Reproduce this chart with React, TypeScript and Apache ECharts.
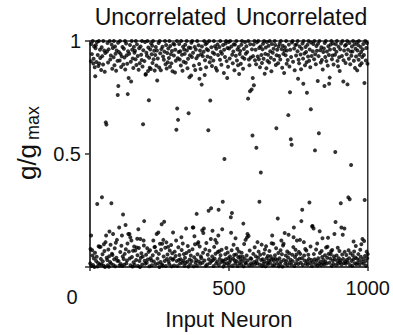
import React, { useEffect, useRef } from "react";
import * as echarts from "echarts";

// Synaptic weight (g/gmax) of each input neuron, neurons 1..1000, 20 per row
const weights: number[] = [
  .016, .08, .91, .139, .987, .004, .942, .074, .051, 1, .009, .9, .921, .038, .976, 0, .884, .063, .844, .968,
  .981, .027, .907, .045, .995, .279, .002, .938, .018, .889, .092, 1, .9, .089, .012, .961, .925, .089, .036, .872,
  .011, .972, .309, .933, .056, .025, .896, 1, .006, .101, .958, .071, .864, 0, .947, .11, .64, .139, .63, .041,
  .954, .031, .991, .008, .905, .077, .963, .001, .048, .157, 1, .022, .918, .098, .936, .015, .282, .984, .059, .877,
  .053, .969, .146, .009, .928, 1, .034, .893, .083, .976, .003, .944, .107, .868, .041, .958, .12, .028, .912, .761,
  .992, .801, .026, .951, .175, .007, .914, 1, .066, .943, .013, .885, .094, .932, .139, .004, .973, .047, .232, .896,
  .035, .966, .01, .927, .058, 1, .874, .186, .079, .989, .016, .937, .029, .899, .104, .765, .955, .146, .836, .068,
  .944, .146, .038, .982, .132, .008, .908, .821, .117, 1, .044, .961, .002, .923, .072, .881, .021, .974, .091, .948,
  .009, .957, .073, .919, 1, .031, .894, .086, .985, .125, .052, .934, .005, .167, .873, .084, .968, .027, .902, 0,
  .124, .976, .041, .939, .061, .916, 1, .011, .887, .046, .632, .959, .117, .095, .203, .911, .028, .996, .014, .851,
  .854, .054, .948, .019, .935, .083, 1, .033, .867, .971, .067, .738, .926, .003, .882, .074, .962, .039, .876, .99,
  .029, .941, .008, .979, .903, .052, 1, .117, .919, .024, .957, .088, .869, .089, .938, .012, .973, .069, .892, .146,
  .958, .825, .037, .923, .016, .153, .991, .058, .883, 0, 1, .103, .946, .022, .871, .076, .964, .189, .011, .103,
  .975, .006, .931, .12, .046, .917, .2, .953, .027, 1, .085, .897, .004, .982, .109, .878, .035, .947, .055, .906,
  .089, .967, .024, .925, .013, 1, .073, .886, .978, .039, .941, .097, .901, .003, .956, .061, .866, .032, .153, .988,
  .036, .936, .007, .984, .068, .861, .961, .049, .913, .117, .607, .026, 1, .701, .004, .924, .651, .087, .951, .031,
  .987, .053, .918, .015, .955, .034, .892, 1, .132, .075, .939, .019, .868, .104, .975, .028, .908, .057, .962, .006,
  .943, .041, .983, .018, .904, .17, .062, 1, .958, .023, .879, .093, .921, .002, .68, .971, .071, .84, .033, .937,
  .012, .969, .051, .847, .992, .027, .929, 1, .079, .175, .948, .175, .003, .891, .043, .136, .974, .101, .872, .019,
  .962, .031, .924, .235, .006, 1, .056, .103, .935, .11, .981, .024, .898, .833, .091, .958, .014, .876, .047, .941,
  .039, .807, .976, .163, .019, .933, .063, .15, .952, .17, 1, .029, .85, .915, .078, .986, .005, .884, .106, .964,
  .991, .011, .931, .054, .959, .605, .249, .034, 1, .072, .906, .018, .737, .926, .124, .26, .972, .026, .889, .046,
  .16, .949, .031, .914, .004, 1, .089, .943, .037, .977, .12, .059, .881, .015, .966, .107, .869, .024, .985, .066,
  .938, .139, .253, .009, .07, .973, .036, .917, 1, .052, .953, .021, .895, .076, .944, .167, .029, .289, .982, .002,
  .027, .858, .961, .478, .013, .929, .056, .989, .034, 1, .084, .911, .017, .836, .969, .064, .886, .039, .996, .008,
  .967, .021, .923, .047, 1, .031, .22, .152, .976, .074, .239, .939, .006, .902, .038, .954, .098, .986, .053, .871,
  .029, .984, .014, .127, .935, .055, 1, .025, .914, .081, .962, .004, .893, .043, .973, .069, .854, .018, .942, .046,
  .956, .033, .899, .011, .983, .063, 1, .026, .928, .045, .877, .192, .003, .965, .102, .921, .036, .995, .019, .12,
  .944, .015, .977, .051, .13, .951, .146, .029, .745, 1, .137, .918, .008, .893, .073, .778, .986, .039, .927, .017,
  .036, .785, .963, .009, .582, .836, .933, .058, .984, .804, .022, 1, .087, .915, .013, .961, .047, .897, .528, .027,
  .994, .016, .11, .931, .041, 1, .068, .919, .969, .289, .011, .884, .054, .976, .418, .031, .938, .099, .903, .004,
  .963, .034, .988, .014, .921, .059, 1, .024, .855, .077, .943, .003, .971, .092, .879, .039, .995, .018, .912, .049,
  .939, .013, .979, .029, .905, .071, 1, .019, .955, .048, .926, .033, .866, .105, .987, .139, .008, .948, .037, .103,
  .966, .026, .917, .009, 1, .052, .982, .036, .894, .083, .614, .937, .016, .961, .031, .215, .902, .062, .976, .003,
  .934, .039, .988, .013, .918, .074, 1, .024, .117, .964, .056, .882, .002, .979, .095, .943, .103, .031, .858, .957,
  .15, .972, .014, .937, .051, 1, .027, .899, .958, .069, .009, .916, .042, .672, .143, .984, .061, .887, .019, .773,
  .961, .032, .565, .929, .011, .541, .993, .054, 1, .026, .908, .088, .132, .175, .967, .004, .871, .044, .982, .076,
  .016, .936, .055, .985, .117, .031, .955, 1, .833, .013, .917, .067, .901, .037, .976, .12, .058, .94, .019, .875,
  .203, .966, .039, .253, .989, .009, .922, .811, 1, .11, .051, .945, .029, .893, .08, .973, .014, .951, .073, .906,
  .771, .026, .983, .011, .931, .054, 1, .036, .913, .285, .962, .018, .884, .091, .698, .993, .031, .934, .004, .179,
  .181, .955, .021, .987, .17, .057, .919, 1, .034, .516, .941, .012, .897, .077, .978, .028, .957, .104, .007, .823,
  .988, .039, .933, .592, .014, 1, .158, .062, .959, .024, .905, .009, .972, .071, .916, .044, .127, .874, .017, .951,
  .031, .967, .011, .801, .991, .052, .929, .023, 1, .086, .911, .015, .954, .041, .09, .891, .129, .977, .058, .938,
  .811, .019, .838, .962, .037, .984, .056, .07, 1, .005, .919, .075, .936, .029, .989, .013, .896, .047, .965, .146,
  .034, .939, .509, .199, .986, .009, .952, .051, 1, .027, .912, .085, .888, .014, .975, .039, .928, .071, .867, .021,
  .963, .029, .282, .989, .175, .011, .934, .055, 1, .143, .036, .821, .915, .018, .958, .17, .067, .979, .024, .903,
  .014, .983, .053, .941, .032, 1, .808, .021, .961, .308, .074, .921, .039, .991, .3, .009, .897, .061, .953, .451,
  .935, .027, .976, .005, .954, .052, 1, .034, .113, .913, .069, .985, .017, .881, .042, .966, .093, .931, .012, .994,
  .037, .87, .958, .019, .982, .057, .917, 1, .031, .939, .011, .893, .076, .974, .045, .951, .101, .902, .022, .929,
  .124, .963, .035, .987, .014, .938, .115, .814, .296, .049, 1, .026, .914, .006, .969, .068, .991, .039, .899, .057,
];

const panelTitles = ["Uncorrelated", "Uncorrelated"];
const panelCenters = [250, 750]; // neuron coordinate of each title's centre
const xTicks = [0, 500, 1000];
const yTicks = [0, 0.5, 1];

const FONT = "'Liberation Sans', Arial, Helvetica, sans-serif";

export default function App() {
  const ref = useRef<HTMLDivElement>(null);
  useEffect(() => {
    document.body.style.margin = "0";
    const chart = echarts.init(ref.current!, undefined, { renderer: "svg" });
    const left = 90, right = 21, top = 41, bottom = 61;
    const plotW = 393 - left - right;
    const titleGraphics = panelTitles.map((t, i) => ({
      type: "text",
      x: left + (panelCenters[i] / 1000) * plotW,
      y: 17,
      style: {
        text: t,
        align: "center",
        verticalAlign: "middle",
        fontSize: 23,
        fontFamily: FONT,
        fill: "#111",
      },
    }));
    chart.setOption({
      animation: false,
      backgroundColor: "#fff",
      grid: {
        left, right, top, bottom,
        show: true,
        borderColor: "#333",
        borderWidth: 1.5,
      },
      graphic: [
        ...titleGraphics,
        {
          type: "text",
          x: 72,
          y: 297,
          style: {
            text: String(xTicks[0]),
            align: "center",
            verticalAlign: "middle",
            fontSize: 20,
            fontFamily: FONT,
            fill: "#111",
          },
        },
      ],
      xAxis: {
        type: "value",
        min: xTicks[0],
        max: xTicks[2],
        interval: 500,
        name: "Input Neuron",
        nameLocation: "middle",
        nameGap: 41,
        nameTextStyle: { fontSize: 22, fontFamily: FONT, color: "#111" },
        axisLine: { show: true, lineStyle: { color: "#333", width: 1.5 } },
        axisTick: { show: true, inside: false, length: 4, lineStyle: { color: "#333", width: 1.5 } },
        axisLabel: {
          fontSize: 20,
          fontFamily: FONT,
          color: "#111",
          margin: 11,
          formatter: (v: number) => (v === 0 ? "" : String(v)),
        },
        splitLine: { show: false },
      },
      yAxis: {
        type: "value",
        min: yTicks[0],
        max: yTicks[2],
        interval: 0.5,
        name: "{a|g/g}{b|max}",
        nameLocation: "middle",
        nameRotate: 90,
        nameGap: 33,
        nameTextStyle: {
          fontFamily: FONT,
          color: "#111",
          rich: {
            a: { fontSize: 26, fontFamily: FONT, color: "#111", padding: [0, 4, 0, 22] },
            b: { fontSize: 18, fontFamily: FONT, color: "#111", padding: [13, 0, 0, 0] },
          },
        },
        axisLine: { show: true, lineStyle: { color: "#333", width: 1.5 } },
        axisTick: { show: true, inside: false, length: 5, lineStyle: { color: "#333", width: 1.5 } },
        axisLabel: {
          fontSize: 20,
          fontFamily: FONT,
          color: "#111",
          margin: 9,
          formatter: (v: number) => (v === 0 ? "" : String(v)),
        },
        splitLine: { show: false },
      },
      series: [
        {
          type: "scatter",
          symbol: "circle",
          symbolSize: 4,
          itemStyle: { color: "#000" },
          data: weights.map((g, i) => [i + 1, g]),
        },
      ],
    });
    return () => chart.dispose();
  }, []);
  return (
    <div
      ref={ref}
      style={{ width: 393, height: 335, position: "absolute", left: 0, top: 0 }}
    />
  );
}
